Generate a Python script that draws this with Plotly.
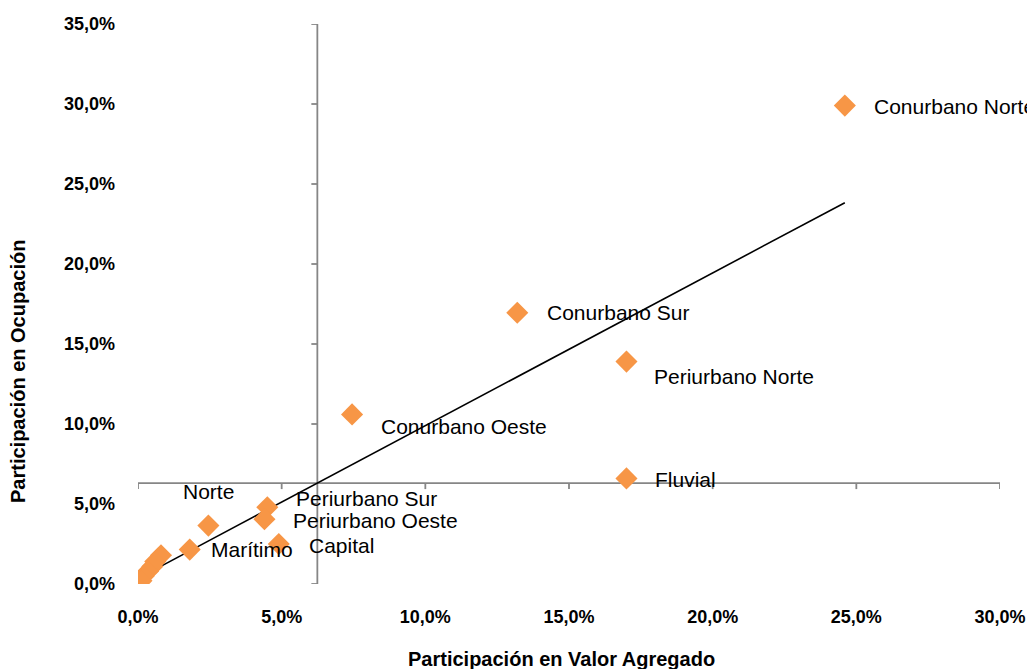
import numpy as np
import plotly.graph_objects as go

# ---- data (percent) ----
regiones = ["Conurbano Norte", "Conurbano Sur", "Periurbano Norte", "Conurbano Oeste",
            "Fluvial", "Periurbano Sur", "Periurbano Oeste", "Capital", "Norte", "Marítimo",
            "", "", "", "", "", ""]
valor_agregado = [24.6, 13.2, 17.0, 7.45, 17.0, 4.5, 4.4, 4.9, 2.45, 1.8,
                  0.8, 0.6, 0.5, 0.35, 0.2, 0.12]
ocupacion = [29.9, 16.95, 13.9, 10.6, 6.6, 4.8, 4.05, 2.5, 3.65, 2.15,
             1.8, 1.4, 1.1, 0.8, 0.5, 0.2]
x_ticks = [0, 5, 10, 15, 20, 25, 30]
y_ticks = [0, 5, 10, 15, 20, 25, 30, 35]

# label offsets in pixels (style only)
label_dx = [27, 28, 26, 27, 27, 27, 27, 28, 0, 19, 0, 0, 0, 0, 0, 0]
label_dy = [-1, 0, -15, -12, -1, 9, -1, -1, 34, 0, 0, 0, 0, 0, 0, 0]

x = np.array(valor_agregado) / 100
y = np.array(ocupacion) / 100

L, R, T, B = 138, 27, 24, 85
W, H = 1027, 669
pw, ph = W - L - R, H - T - B
xmax, ymax = x_ticks[-1] / 100, y_ticks[-1] / 100
px_x = xmax / pw  # data units per pixel
px_y = ymax / ph

fig = go.Figure()

# trend line (linear regression)
m, c = np.polyfit(x, y, 1)
xt = np.array([x.min(), x.max()])
fig.add_trace(go.Scatter(x=xt, y=m * xt + c, mode="lines",
                         line=dict(color="black", width=1.6), hoverinfo="skip"))

fig.add_trace(go.Scatter(x=x, y=y, mode="markers",
                         marker=dict(symbol="diamond", size=17, color="#F79646",
                                     line=dict(width=0)),
                         text=regiones, hoverinfo="text"))

# crossing axes at the means
mx, my = x.mean(), y.mean()
axis_col = "#868686"
shapes = [
    dict(type="line", xref="x", yref="y", x0=0, x1=xmax, y0=my, y1=my,
         line=dict(color=axis_col, width=1.8), layer="below"),
    dict(type="line", xref="x", yref="y", x0=mx, x1=mx, y0=0, y1=ymax,
         line=dict(color=axis_col, width=1.8), layer="below"),
]
for t in x_ticks:
    shapes.append(dict(type="line", xref="x", yref="y", x0=t / 100, x1=t / 100,
                       y0=my, y1=my - 6 * px_y, line=dict(color=axis_col, width=1.8),
                       layer="below"))
for t in y_ticks:
    shapes.append(dict(type="line", xref="x", yref="y", x0=mx, x1=mx - 6 * px_x,
                       y0=t / 100, y1=t / 100, line=dict(color=axis_col, width=1.8),
                       layer="below"))

annotations = []
for name, xi, yi, dx, dy in zip(regiones, x, y, label_dx, label_dy):
    if not name:
        continue
    annotations.append(dict(x=xi, y=yi, xref="x", yref="y", text=name, showarrow=False,
                            xanchor="center" if name == "Norte" else "left",
                            yanchor="middle", xshift=dx, yshift=dy,
                            font=dict(family="Liberation Sans, Arial", size=21, color="black")))

annotations.append(dict(x=(561 - L) / pw, y=(T + ph - 659) / ph, xref="paper", yref="paper",
                        text="<b>Participación en Valor Agregado</b>", showarrow=False,
                        xanchor="center", yanchor="middle",
                        font=dict(family="Liberation Sans, Arial", size=20, color="black")))
annotations.append(dict(x=(18 - L) / pw, y=(T + ph - 372) / ph, xref="paper", yref="paper",
                        text="<b>Participación en Ocupación</b>", showarrow=False, textangle=-90,
                        xanchor="center", yanchor="middle",
                        font=dict(family="Liberation Sans, Arial", size=20, color="black")))

tickfont = dict(family="Liberation Sans, Arial", size=18, color="black", weight="bold")
fig.update_layout(
    width=W, height=H, margin=dict(l=L, r=R, t=T, b=B, autoexpand=False),
    paper_bgcolor="white", plot_bgcolor="white", showlegend=False,
    separators=", ",
    shapes=shapes, annotations=annotations,
    xaxis=dict(range=[0, xmax], tickvals=[t / 100 for t in x_ticks], tickformat=".1%",
               showgrid=False, zeroline=False, showline=False, ticks="", automargin=False,
               ticklabelstandoff=20, tickfont=tickfont),
    yaxis=dict(range=[0, ymax], tickvals=[t / 100 for t in y_ticks], tickformat=".1%",
               showgrid=False, zeroline=False, showline=False, ticks="", automargin=False,
               ticklabelstandoff=22, tickfont=tickfont),
)

fig.write_html("out.html", config={"displayModeBar": False},
               post_script="document.body.style.margin='0';document.body.style.overflow='hidden';")
